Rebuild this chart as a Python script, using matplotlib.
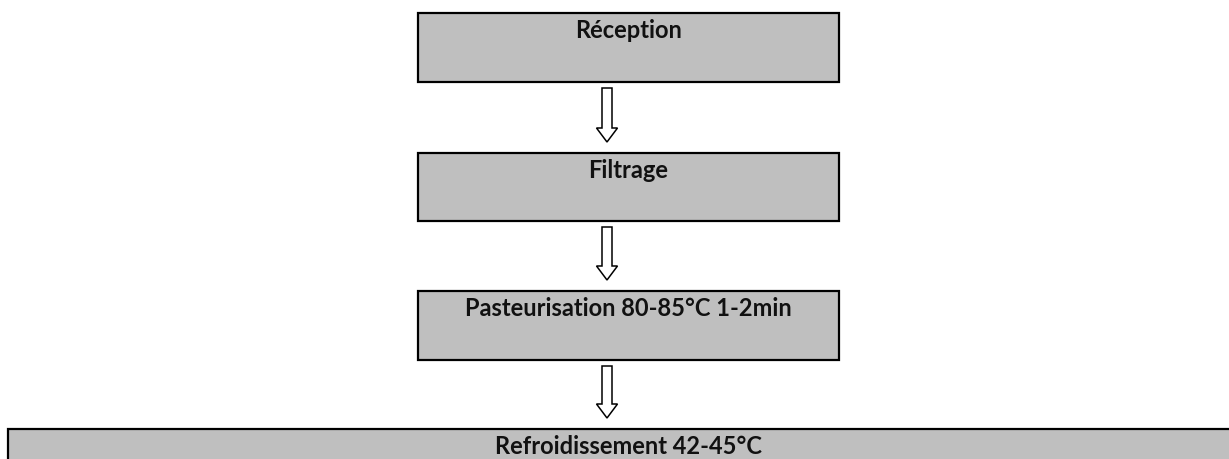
import matplotlib.pyplot as plt
from matplotlib.patches import Rectangle, FancyArrow

plt.rcParams["font.family"] = ["Lato", "DejaVu Sans"]

# Process steps, top to bottom
steps = ["Réception", "Filtrage", "Pasteurisation 80-85°C 1-2min", "Refroidissement 42-45°C"]

# Box layout in pixel units (left, top, right, bottom)
box_left = [418, 418, 418, 8]
box_right = [839, 839, 839, 1260]
box_top = [14, 154, 292, 430]
box_bottom = [83, 222, 361, 500]

W, H = 1229, 460
fig = plt.figure(figsize=(W / 100, H / 100), dpi=100)
ax = fig.add_axes([0, 0, 1, 1])
ax.set_xlim(0, W)
ax.set_ylim(H, 0)
ax.axis("off")

fill = "#BFBFBF"
cx = (418 + 839) / 2
for i, label in enumerate(steps):
    x0, x1 = box_left[i], box_right[i]
    y0, y1 = box_top[i], box_bottom[i]
    ax.add_patch(Rectangle((x0, y0), x1 - x0, y1 - y0, facecolor=fill,
                           edgecolor="black", linewidth=1.6, zorder=2))
    ax.text(cx, y0 + 17, label, ha="center", va="center", fontsize=17,
            fontweight="bold", color="#111111", zorder=3)

# Hollow block arrows between the boxes
arrow_x = 607
for i in range(len(steps) - 1):
    start = box_bottom[i] + 6
    end = box_top[i + 1] - 11
    ax.add_patch(FancyArrow(arrow_x, start, 0, end - start, width=10,
                            head_width=21, head_length=14,
                            length_includes_head=True, facecolor="white",
                            edgecolor="black", linewidth=1.1, zorder=2))

fig.savefig("out.png", dpi=100)
